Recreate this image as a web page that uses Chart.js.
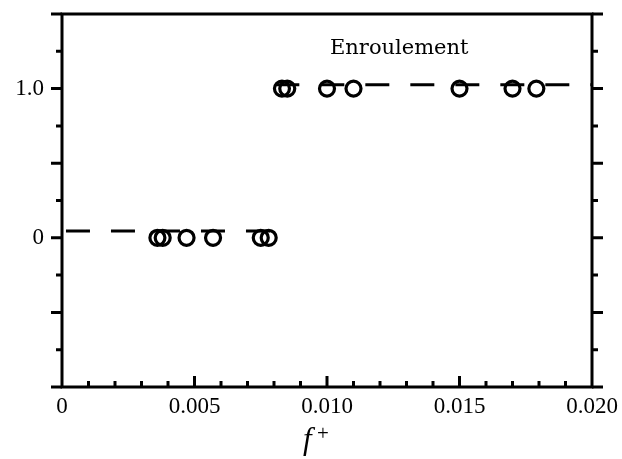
<!DOCTYPE html>
<html>
<head>
<meta charset="utf-8">
<script src="https://cdn.jsdelivr.net/npm/chart.js@4/dist/chart.umd.min.js"></script>
<style>
  body { margin: 0; background: #fff; }
  #wrap { width: 622px; height: 459px; }
</style>
</head>
<body>
<div id="wrap"><canvas id="chart" width="622" height="459"></canvas></div>
<script>
// f+ values of the measured points
const xLow = [0.0036, 0.0038, 0.0047, 0.0057, 0.0075, 0.0078];
const xHigh = [0.0083, 0.0085, 0.0100, 0.0110, 0.0150, 0.0170, 0.0179];
const yLow = 0;
const yHigh = 1.0;

// dashed step levels and their extent along f+
const lowLevel = 0.045;
const highLevel = 1.025;
const lowSpan = [0.00015, 0.0080];
const highSpan = [0.00805, 0.020];

// tick labels
const xTicks = [0, 0.005, 0.010, 0.015, 0.020];
const yTicks = [0, 1.0];

const serif = '"Liberation Serif", "Times New Roman", serif';

// frame, tick marks and text annotations
const framePlugin = {
    id: 'frame',
    afterDraw(chart) {
        const ctx = chart.ctx;
        const xs = chart.scales.x;
        const ys = chart.scales.y;
        const a = chart.chartArea;
        ctx.save();
        ctx.strokeStyle = '#000';
        ctx.lineWidth = 3;
        ctx.lineCap = 'butt';

        ctx.beginPath();
        ctx.moveTo(a.left, a.top); ctx.lineTo(a.right, a.top);
        ctx.moveTo(a.left, a.bottom); ctx.lineTo(a.right, a.bottom);
        ctx.moveTo(a.left, a.top - 1.5); ctx.lineTo(a.left, a.bottom + 1.5);
        ctx.moveTo(a.right, a.top - 1.5); ctx.lineTo(a.right, a.bottom + 1.5);
        ctx.stroke();

        // y ticks: outward on both sides, major every 0.5
        for (let v = -1; v <= 1.5001; v += 0.25) {
            const py = ys.getPixelForValue(v);
            const major = Math.abs(v / 0.5 - Math.round(v / 0.5)) < 1e-6;
            const len = major ? 11 : 6;
            ctx.beginPath();
            ctx.moveTo(a.left, py); ctx.lineTo(a.left - len, py);
            ctx.moveTo(a.right, py); ctx.lineTo(a.right + len, py);
            ctx.stroke();
        }

        // x ticks: inward from the bottom, major every 0.005
        for (let i = 1; i < 20; i++) {
            const px = xs.getPixelForValue(i * 0.001);
            const len = i % 5 === 0 ? 11 : 6;
            ctx.beginPath();
            ctx.moveTo(px, a.bottom); ctx.lineTo(px, a.bottom - len);
            ctx.stroke();
        }

        ctx.fillStyle = '#000';
        ctx.textBaseline = 'alphabetic';
        ctx.font = '21px "DejaVu Serif", serif';
        ctx.fillText('Enroulement', 330, 54);

        ctx.font = 'italic 31px ' + serif;
        ctx.fillText('f', 303, 449);
        ctx.font = '21px ' + serif;
        ctx.fillText('+', 317, 440);
        ctx.restore();
    }
};

const dashStyle = {
    showLine: true,
    borderColor: '#000',
    borderWidth: 3,
    borderDash: [24, 21],
    pointRadius: 0,
    fill: false
};

const circleStyle = {
    showLine: false,
    pointStyle: 'circle',
    pointRadius: 7.5,
    pointBorderWidth: 3.2,
    pointBorderColor: '#000',
    pointBackgroundColor: 'rgba(0,0,0,0)'
};

new Chart(document.getElementById('chart'), {
    type: 'scatter',
    data: {
        datasets: [
            Object.assign({ data: lowSpan.map(x => ({ x: x, y: lowLevel })) }, dashStyle),
            Object.assign({ data: highSpan.map(x => ({ x: x, y: highLevel })) }, dashStyle),
            Object.assign({ data: xLow.map(x => ({ x: x, y: yLow })) }, circleStyle),
            Object.assign({ data: xHigh.map(x => ({ x: x, y: yHigh })) }, circleStyle)
        ]
    },
    options: {
        responsive: false,
        animation: false,
        layout: { padding: { top: 14, right: 30, left: 0, bottom: 0 } },
        plugins: {
            legend: { display: false },
            tooltip: { enabled: false }
        },
        scales: {
            x: {
                type: 'linear',
                min: 0,
                max: 0.020,
                afterBuildTicks: s => { s.ticks = xTicks.map(v => ({ value: v })); },
                afterFit: s => {
                    s.height = 72;
                    s.paddingLeft = 0;
                    s.paddingRight = 0;
                },
                grid: { display: false, drawTicks: false },
                border: { display: false },
                ticks: {
                    color: '#000',
                    padding: 6,
                    maxRotation: 0,
                    font: { family: serif, size: 23 },
                    callback: v => (v === 0 ? '0' : v.toFixed(3))
                }
            },
            y: {
                type: 'linear',
                min: -1,
                max: 1.5,
                afterBuildTicks: s => { s.ticks = yTicks.map(v => ({ value: v })); },
                afterFit: s => {
                    s.width = 62;
                    s.paddingTop = 0;
                    s.paddingBottom = 0;
                },
                grid: { display: false, drawTicks: false },
                border: { display: false },
                ticks: {
                    color: '#000',
                    padding: 18,
                    font: { family: serif, size: 23 },
                    callback: v => (v === 0 ? '0' : v.toFixed(1))
                }
            }
        }
    },
    plugins: [framePlugin]
});
</script>
</body>
</html>
